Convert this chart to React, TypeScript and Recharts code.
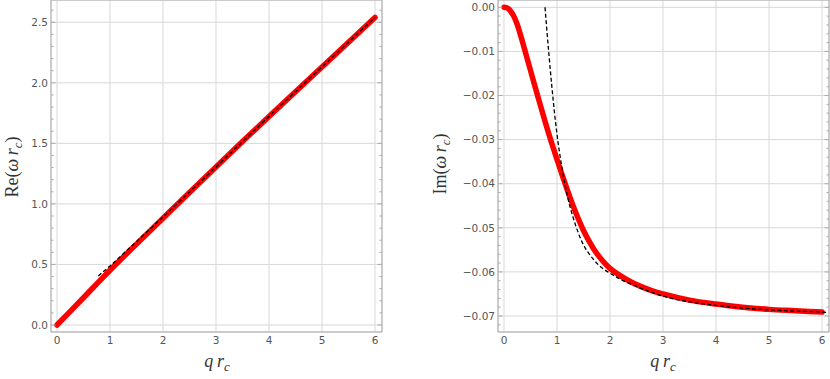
import React from "react";
import { LineChart, Line, XAxis, YAxis, CartesianGrid, ReferenceArea } from "recharts";

// values
const qMajor = [0, 1, 2, 3, 4, 5, 6];
const qMinor = [0, 0.2, 0.4, 0.6, 0.8, 1, 1.2, 1.4, 1.6, 1.8, 2, 2.2, 2.4, 2.6, 2.8, 3, 3.2, 3.4, 3.6, 3.8, 4, 4.2, 4.4, 4.6, 4.8, 5, 5.2, 5.4, 5.6, 5.8, 6];

const reMajor = [0, 0.5, 1, 1.5, 2, 2.5];
const reLabels = ["0.0", "0.5", "1.0", "1.5", "2.0", "2.5"];
const imMajor = [0, -0.01, -0.02, -0.03, -0.04, -0.05, -0.06, -0.07];
const imLabels = ["0.00", "\u22120.01", "\u22120.02", "\u22120.03", "\u22120.04", "\u22120.05", "\u22120.06", "\u22120.07"];

// Re(omega r_c): numerical (red) and asymptotic (dashed)
const reRedQ = [0, 0.25, 0.5, 0.75, 1, 1.5, 2, 2.5, 3, 3.5, 4, 4.5, 5, 5.5, 6];
const reRedV = [0, 0.112, 0.225, 0.34, 0.452, 0.668, 0.882, 1.094, 1.305, 1.515, 1.722, 1.927, 2.131, 2.335, 2.54];
const reFitQ = [0.78, 1, 1.5, 2, 3, 4, 5, 6];
const reFitV = [0.405, 0.488, 0.69, 0.892, 1.305, 1.722, 2.131, 2.54];

// Im(omega r_c)
const imRedQ = [0, 0.05, 0.1, 0.15, 0.2, 0.25, 0.3, 0.4, 0.5, 0.6, 0.7, 0.8, 0.9, 1.0, 1.1, 1.2, 1.3, 1.4, 1.5, 1.6, 1.7, 1.8, 1.9, 2.0, 2.2, 2.4, 2.6, 2.8, 3, 3.5, 4, 4.5, 5, 5.5, 6];
const imRedV = [0, -0.0001, -0.0005, -0.0013, -0.0024, -0.0039, -0.0058, -0.01, -0.0143, -0.0186, -0.0228, -0.0269, -0.0308, -0.0345, -0.0381, -0.0416, -0.0449, -0.0479, -0.0506, -0.0529, -0.0549, -0.0566, -0.058, -0.0592, -0.0609, -0.0623, -0.0634, -0.0643, -0.065, -0.0664, -0.0673, -0.068, -0.0685, -0.0688, -0.0691];
const imFitQ = [0.774, 0.8, 0.85, 0.9, 0.95, 1.0, 1.1, 1.2, 1.3, 1.4, 1.5, 1.6, 1.8, 2.0, 2.2, 2.5, 3, 3.5, 4, 4.5, 5, 5.5, 6, 6.12];
const imFitV = [0, -0.0039, -0.011, -0.0176, -0.0236, -0.0288, -0.0368, -0.043, -0.0475, -0.0511, -0.0539, -0.0558, -0.0586, -0.0603, -0.0617, -0.0633, -0.0655, -0.0668, -0.0676, -0.0682, -0.0686, -0.0689, -0.0691, -0.0692];

const reMinor = [0, 0.1, 0.2, 0.3, 0.4, 0.5, 0.6, 0.7, 0.8, 0.9, 1, 1.1, 1.2, 1.3, 1.4, 1.5, 1.6, 1.7, 1.8, 1.9, 2, 2.1, 2.2, 2.3, 2.4, 2.5, 2.6];
const imMinor = imMajor.flatMap((m) => [m, m - 0.002, m - 0.004, m - 0.006, m - 0.008]).filter((v) => v > -0.0736);

const zip = (xs: number[], ys: number[]) => xs.map((x, i) => ({ x, y: ys[i] }));

const FRAME = "#ababab";
const GRID = "#d8d8d8";
const TICK_FONT = "DejaVu Sans";

type Box = { left: number; right: number; top: number; bottom: number };

const near = (v: number, list: number[]) => list.some((m) => Math.abs(m - v) < 1e-9);

function edgeTick(side: string, box: Box, majors: number[]) {
  return (props: any) => {
    const c = props.payload.coordinate;
    const len = near(props.payload.value, majors) ? 4.5 : 2.5;
    let p = { x1: c, y1: box.bottom, x2: c, y2: box.bottom - len };
    if (side === "top") p = { x1: c, y1: box.top, x2: c, y2: box.top + len };
    if (side === "left") p = { x1: box.left, y1: c, x2: box.left + len, y2: c };
    if (side === "right") p = { x1: box.right, y1: c, x2: box.right - len, y2: c };
    return <line {...p} stroke={FRAME} strokeWidth={1} />;
  };
}

function bottomLabel(box: Box) {
  return (props: any) => (
    <text x={props.payload.coordinate} y={box.bottom + 12} textAnchor="middle" fontFamily={TICK_FONT} fontSize={10.5} fill="#555">
      {String(props.payload.value)}
    </text>
  );
}

function leftLabel(box: Box, majors: number[], labels: string[]) {
  return (props: any) => {
    const i = majors.findIndex((m) => Math.abs(m - props.payload.value) < 1e-9);
    return (
      <text x={box.left - 3} y={props.payload.coordinate + 3.7} textAnchor="end" fontFamily={TICK_FONT} fontSize={10.5} fill="#555">
        {labels[i]}
      </text>
    );
  };
}

type PanelProps = {
  yAxisWidth: number;
  marginRight: number;
  yDomain: [number, number];
  yMajor: number[];
  yMinor: number[];
  yLabels: string[];
  red: { x: number; y: number }[];
  fit: { x: number; y: number }[];
};

const W = 415;
const H = 379;
const X_AXIS_H = 47;
const xDomain: [number, number] = [-0.113, 6.132];

function Panel({ yAxisWidth, marginRight, yDomain, yMajor, yMinor, yLabels, red, fit }: PanelProps) {
  const box: Box = { left: yAxisWidth, right: W - marginRight, top: 0, bottom: H - X_AXIS_H };
  return (
    <LineChart width={W} height={H} margin={{ top: 0, right: marginRight, bottom: 0, left: 0 }}>
      <CartesianGrid stroke={GRID} strokeWidth={1} />
      <XAxis type="number" dataKey="x" domain={xDomain} allowDataOverflow ticks={qMajor} interval={0} height={X_AXIS_H} tickLine={false} axisLine={false} tick={bottomLabel(box)} />
      <XAxis xAxisId="bm" type="number" domain={xDomain} allowDataOverflow ticks={qMinor} interval={0} mirror orientation="bottom" tickLine={false} axisLine={false} tick={edgeTick("bottom", box, qMajor)} />
      <XAxis xAxisId="tm" type="number" domain={xDomain} allowDataOverflow ticks={qMinor} interval={0} mirror orientation="top" tickLine={false} axisLine={false} tick={edgeTick("top", box, qMajor)} />
      <YAxis type="number" domain={yDomain} allowDataOverflow ticks={yMajor} interval={0} width={yAxisWidth} tickLine={false} axisLine={false} tick={leftLabel(box, yMajor, yLabels)} />
      <YAxis yAxisId="lm" type="number" domain={yDomain} allowDataOverflow ticks={yMinor} interval={0} mirror orientation="left" tickLine={false} axisLine={false} tick={edgeTick("left", box, yMajor)} />
      <YAxis yAxisId="rm" type="number" domain={yDomain} allowDataOverflow ticks={yMinor} interval={0} mirror orientation="right" tickLine={false} axisLine={false} tick={edgeTick("right", box, yMajor)} />
      <Line data={red} dataKey="y" type="monotone" stroke="#ff0000" strokeWidth={5.5} strokeLinecap="round" dot={false} isAnimationActive={false} />
      <Line data={fit} dataKey="y" type="monotone" stroke="#000" strokeWidth={1.3} strokeDasharray="4 2.4" dot={false} isAnimationActive={false} />
      <ReferenceArea x1={xDomain[0]} x2={xDomain[1]} y1={yDomain[0]} y2={yDomain[1]} fill="none" stroke={FRAME} strokeWidth={1} ifOverflow="visible" />
    </LineChart>
  );
}

const serif = "Liberation Serif";

export default function App() {
  return (
    <div style={{ position: "absolute", left: 0, top: 0, width: 830, height: 379, background: "#fff" }}>
      <div style={{ position: "absolute", left: 0, top: 0 }}>
        <Panel yAxisWidth={51} marginRight={33} yDomain={[-0.058, 2.684]} yMajor={reMajor} yMinor={reMinor} yLabels={reLabels} red={zip(reRedQ, reRedV)} fit={zip(reFitQ, reFitV)} />
      </div>
      <div style={{ position: "absolute", left: 415, top: 0 }}>
        <Panel yAxisWidth={83} marginRight={1} yDomain={[-0.07363, 0.00166]} yMajor={imMajor} yMinor={imMinor} yLabels={imLabels} red={zip(imRedQ, imRedV)} fit={zip(imFitQ, imFitV)} />
      </div>
      <svg width={830} height={379} style={{ position: "absolute", left: 0, top: 0, pointerEvents: "none" }}>
        <text x={217} y={367} textAnchor="middle" fontFamily={serif} fontSize={18} fontStyle="italic" fill="#333">
          q{"\u2009"}r<tspan fontSize={13} dy={4}>c</tspan>
        </text>
        <text x={663} y={367} textAnchor="middle" fontFamily={serif} fontSize={18} fontStyle="italic" fill="#333">
          q{"\u2009"}r<tspan fontSize={13} dy={4}>c</tspan>
        </text>
        <text transform="translate(18,167) rotate(-90)" textAnchor="middle" fontFamily={serif} fontSize={18} fill="#333">
          Re(<tspan fontStyle="italic">ω{"\u2009"}r</tspan><tspan fontStyle="italic" fontSize={13} dy={4}>c</tspan><tspan dy={-4}>)</tspan>
        </text>
        <text transform="translate(446,164) rotate(-90)" textAnchor="middle" fontFamily={serif} fontSize={18} fill="#333">
          Im(<tspan fontStyle="italic">ω{"\u2009"}r</tspan><tspan fontStyle="italic" fontSize={13} dy={4}>c</tspan><tspan dy={-4}>)</tspan>
        </text>
      </svg>
    </div>
  );
}
